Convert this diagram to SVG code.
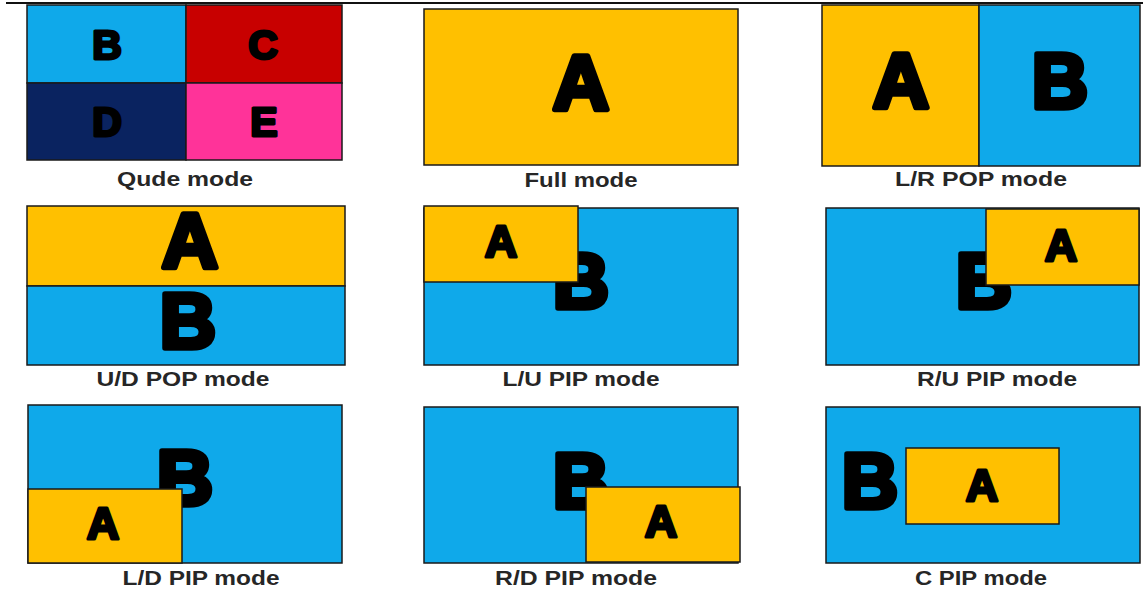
<svg xmlns="http://www.w3.org/2000/svg" width="1145" height="591" viewBox="0 0 1145 591">
<style>
.bg{fill:#ffffff}
.yel{fill:#FFC000;stroke:#1a1a1a;stroke-width:1.5}
.blu{fill:#0FA9EA;stroke:#1a1a1a;stroke-width:1.5}
.red{fill:#C80000;stroke:#1a1a1a;stroke-width:1.5}
.nav{fill:#0A2360;stroke:#1a1a1a;stroke-width:1.5}
.pnk{fill:#FF3399;stroke:#1a1a1a;stroke-width:1.5}
.big{font-family:"Liberation Sans",Arial,sans-serif;font-weight:bold;font-size:78px;fill:#000;stroke:#000;stroke-width:5.5;stroke-linejoin:round;text-anchor:middle}
.mid{font-family:"Liberation Sans",Arial,sans-serif;font-weight:bold;font-size:45px;fill:#000;stroke:#000;stroke-width:3.2;stroke-linejoin:round;text-anchor:middle}
.sml{font-family:"Liberation Sans",Arial,sans-serif;font-weight:bold;font-size:41px;fill:#000;stroke:#000;stroke-width:3;stroke-linejoin:round;text-anchor:middle}
.lbl{font-family:"Liberation Sans",Arial,sans-serif;font-weight:bold;font-size:21px;fill:#262626;text-anchor:middle}
</style>
<rect class="bg" x="0" y="0" width="1145" height="591"/>
<line x1="6" y1="3" x2="1143" y2="3" stroke="#111" stroke-width="2"/>
<g id="connectors"/>

<g id="qude">
<rect class="blu" x="27" y="5" width="159" height="78"/>
<rect class="red" x="186" y="5" width="156" height="78"/>
<rect class="nav" x="27" y="83" width="159" height="77"/>
<rect class="pnk" x="186" y="83" width="156" height="77"/>
<text class="sml" x="107" y="59">B</text>
<text class="sml" x="263" y="59">C</text>
<text class="sml" x="107" y="136">D</text>
<text class="sml" x="264" y="136">E</text>
<text class="lbl" x="185" y="186" textLength="136" lengthAdjust="spacingAndGlyphs">Qude mode</text>
</g>

<g id="full">
<rect class="yel" x="424" y="9" width="314" height="156"/>
<text class="big" x="581" y="110">A</text>
<text class="lbl" x="581" y="187" textLength="113" lengthAdjust="spacingAndGlyphs">Full mode</text>
</g>

<g id="lrpop">
<rect class="yel" x="822" y="5" width="157" height="161"/>
<rect class="blu" x="979" y="5" width="161" height="161"/>
<text class="big" x="901" y="108">A</text>
<text class="big" x="1060" y="108">B</text>
<text class="lbl" x="981" y="186" textLength="172" lengthAdjust="spacingAndGlyphs">L/R POP mode</text>
</g>

<g id="udpop">
<rect class="yel" x="27" y="206" width="318" height="80"/>
<rect class="blu" x="27" y="286" width="318" height="79"/>
<text class="big" x="190" y="268">A</text>
<text class="big" x="188" y="348">B</text>
<text class="lbl" x="183" y="386" textLength="173" lengthAdjust="spacingAndGlyphs">U/D POP mode</text>
</g>

<g id="lupip">
<rect class="blu" x="424" y="208" width="314" height="157"/>
<text class="big" x="581" y="308">B</text>
<rect class="yel" x="424" y="206" width="154" height="76"/>
<text class="mid" x="501" y="257">A</text>
<text class="lbl" x="581" y="386" textLength="157" lengthAdjust="spacingAndGlyphs">L/U PIP mode</text>
</g>

<g id="rupip">
<rect class="blu" x="826" y="208" width="313" height="157"/>
<text class="big" x="984" y="308">B</text>
<rect class="yel" x="986" y="209" width="153" height="76"/>
<text class="mid" x="1061" y="261">A</text>
<text class="lbl" x="997" y="386" textLength="160" lengthAdjust="spacingAndGlyphs">R/U PIP mode</text>
</g>

<g id="ldpip">
<rect class="blu" x="28" y="405" width="314" height="158"/>
<text class="big" x="185" y="505">B</text>
<rect class="yel" x="28" y="489" width="154" height="74"/>
<text class="mid" x="103" y="539">A</text>
<text class="lbl" x="201" y="585" textLength="157" lengthAdjust="spacingAndGlyphs">L/D PIP mode</text>
</g>

<g id="rdpip">
<rect class="blu" x="424" y="407" width="314" height="156"/>
<text class="big" x="581" y="508">B</text>
<rect class="yel" x="586" y="487" width="154" height="75"/>
<text class="mid" x="661" y="537">A</text>
<text class="lbl" x="576" y="585" textLength="162" lengthAdjust="spacingAndGlyphs">R/D PIP mode</text>
</g>

<g id="cpip">
<rect class="blu" x="826" y="407" width="314" height="156"/>
<text class="big" x="870" y="508">B</text>
<rect class="yel" x="906" y="448" width="153" height="76"/>
<text class="mid" x="982" y="501">A</text>
<text class="lbl" x="981" y="585" textLength="132" lengthAdjust="spacingAndGlyphs">C PIP mode</text>
</g>
</svg>
